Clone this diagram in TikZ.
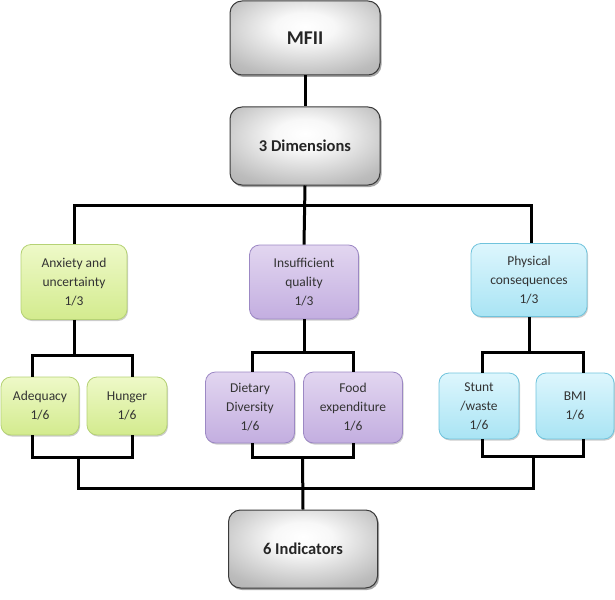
\documentclass[tikz,border=0pt]{standalone}
\usepackage{fontspec}
\setmainfont{Carlito}
\usetikzlibrary{shadows,calc}
\definecolor{gbord}{HTML}{3A3A3A}
\definecolor{gout}{HTML}{A2A2A2}
\definecolor{grtop}{HTML}{EEF9C8}
\definecolor{grbot}{HTML}{D3EB8E}
\definecolor{grbord}{HTML}{B5D275}
\definecolor{putop}{HTML}{E2D6F0}
\definecolor{pubot}{HTML}{C3AEE0}
\definecolor{pubord}{HTML}{9C88C4}
\definecolor{cytop}{HTML}{DDF6FD}
\definecolor{cybot}{HTML}{A9E4F4}
\definecolor{cybord}{HTML}{70C3DC}
\pgfdeclareradialshading{grayglow}{\pgfpoint{0bp}{8bp}}{%
  color(0bp)=(white); color(10bp)=(white!92!gout); color(32bp)=(gout!72); color(50bp)=(gout); color(100bp)=(gout)}
\tikzset{
  graybox/.style={draw=gbord, line width=1pt, rounded corners=12pt, shading=grayglow,
    font=\bfseries\fontsize{16.5}{19}\selectfont,
    align=center, inner sep=0pt, text=black!85,
    drop shadow={shadow xshift=1.5pt, shadow yshift=-2pt, opacity=0.35, fill=black}},
  cbox/.style={line width=0.8pt, rounded corners=10pt, align=center, inner sep=0pt,
    font=\fontsize{13.5}{19}\selectfont, text=black!80,
    drop shadow={shadow xshift=1pt, shadow yshift=-1.5pt, opacity=0.2, fill=black}},
  green/.style={cbox, draw=grbord, top color=grtop, bottom color=grbot},
  purple/.style={cbox, draw=pubord, top color=putop, bottom color=pubot},
  cyan/.style={cbox, draw=cybord, top color=cytop, bottom color=cybot},
  conn/.style={line width=3pt, black},
}
\begin{document}
\begin{tikzpicture}[x=1pt,y=-1pt]
\useasboundingbox (0,0) rectangle (615,599);
% gray boxes
\node[graybox, minimum width=150, minimum height=74, font=\bfseries\fontsize{19.5}{22}\selectfont] (mfii) at (305,38) {MFII};
\node[graybox, minimum width=150, minimum height=78] (dim) at (305,146) {3 Dimensions};
\node[graybox, minimum width=149, minimum height=78] (ind) at (303,549) {6 Indicators};
% dimensions
\node[green, minimum width=106, minimum height=75] (anx) at (74,282) {Anxiety and\\uncertainty\\1/3};
\node[purple, minimum width=109, minimum height=74] (ins) at (304,282) {Insufficient\\quality\\1/3};
\node[cyan, minimum width=116, minimum height=73] (phy) at (529,280) {Physical\\consequences\\1/3};
% indicators
\node[green, minimum width=78, minimum height=58] (adq) at (40,406) {Adequacy\\1/6};
\node[green, minimum width=80, minimum height=58] (hun) at (127,406) {Hunger\\1/6};
\node[purple, minimum width=89, minimum height=71] (die) at (250,407.5) {Dietary\\Diversity\\1/6};
\node[purple, minimum width=99, minimum height=71] (foo) at (353,407.5) {Food\\expenditure\\1/6};
\node[cyan, minimum width=80, minimum height=66] (stu) at (479,406) {Stunt\\/waste\\1/6};
\node[cyan, minimum width=78, minimum height=66] (bmi) at (575,406) {BMI\\1/6};
% connectors
\draw[conn] (mfii.south) -- (dim.north);
\draw[conn] (dim.south) -- (ins.north);
\draw[conn] (anx.north) |- ($(dim.south)+(0,20)$) -| ([xshift=2]phy.north);
% anxiety children
\draw[conn] (anx.south) -- ++(0,36) coordinate (a1);
\draw[conn] ([xshift=-8]adq.north) |- (a1) -| ([xshift=5]hun.north);
% insufficient children
\draw[conn] (ins.south) -- ++(0,33) coordinate (i1);
\draw[conn] ([xshift=2]die.north) |- (i1) -| (foo.north);
% physical children
\draw[conn] (phy.south) -- ++(0,36) coordinate (p1);
\draw[conn] ([xshift=3]stu.north) |- (p1) -| ([xshift=8]bmi.north);
% bottom joins
\draw[conn] ([xshift=-8]adq.south) -- ++(0,22) coordinate (b1) -| ([xshift=5]hun.south);
\draw[conn] ([xshift=2]die.south) -- ++(0,14) coordinate (b2) -| (foo.south);
\draw[conn] ([xshift=3]stu.south) -- ++(0,17) coordinate (b3) -| ([xshift=8]bmi.south);
\coordinate (m1) at ($(b1)!0.46!([xshift=5]hun.south |- b1)$);
\coordinate (m3) at ($(b3)!0.51!([xshift=8]bmi.south |- b3)$);
\draw[conn] (m1) |- ($(ind.north)+(0,-21)$) -| (m3);
\draw[conn] (ind.north) -- ($(b2)!0.5!(foo.south |- b2)$);
\end{tikzpicture}
\end{document}
